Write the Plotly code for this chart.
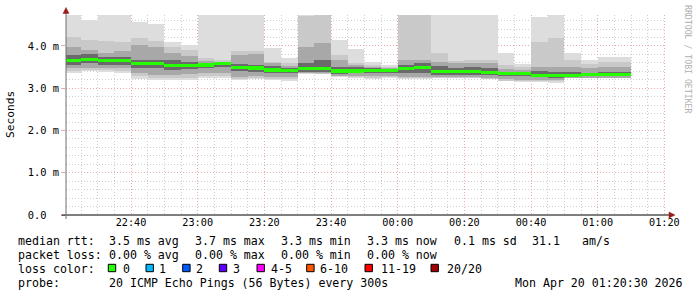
import pandas as pd
import plotly.graph_objects as go

# ---------------- data (ms) ----------------
bin_start = pd.date_range("2026-04-19 22:20:00", periods=34, freq="5min")

rtt_max = [4.90, 4.62, 4.90, 4.90, 4.575, 4.52, 4.10, 4.02, 4.90, 4.90, 4.90, 4.90,
           3.96, 3.72, 4.90, 4.90, 4.14, 3.93, 3.61, 3.55, 4.90, 4.90, 4.90, 4.90,
           4.90, 4.90, 3.84, 3.57, 4.68, 4.90, 3.84, 3.67, 3.75, 3.75]
rtt_hi2 = [4.22, 4.13, 4.11, 4.09, 4.20, 4.11, 3.97, 3.905, 3.72, 3.68, 3.89, 3.89,
           3.61, 3.59, 4.70, 4.90, 3.79, 3.60, 3.55, 3.51, 4.90, 4.90, 3.84, 3.645,
           3.67, 3.67, 3.55, 3.495, 4.10, 4.20, 3.67, 3.566, 3.63, 3.63]
rtt_hi3 = [3.98, 3.905, 3.83, 3.87, 4.02, 3.98, 3.83, 3.76, 3.65, 3.63, 3.79, 3.80,
           3.59, 3.527, 3.98, 4.06, 3.67, 3.55, 3.511, 3.471, 3.67, 3.68, 3.63, 3.59,
           3.59, 3.59, 3.448, 3.432, 3.511, 3.511, 3.511, 3.471, 3.511, 3.511]
rtt_hi4 = [3.79, 3.80, 3.75, 3.75, 3.67, 3.67, 3.67, 3.63, 3.60, 3.61, 3.57, 3.55,
           3.527, 3.471, 3.59, 3.67, 3.511, 3.495, 3.471, 3.44, 3.55, 3.59, 3.527, 3.471,
           3.511, 3.471, 3.393, 3.393, 3.408, 3.393, 3.393, 3.353, 3.393, 3.393]
rtt_med = [3.653, 3.684, 3.653, 3.653, 3.590, 3.582, 3.543, 3.527, 3.550, 3.582, 3.495, 3.479,
           3.432, 3.424, 3.456, 3.456, 3.408, 3.408, 3.416, 3.424, 3.471, 3.487, 3.400, 3.385,
           3.385, 3.377, 3.345, 3.345, 3.306, 3.298, 3.306, 3.314, 3.329, 3.329]
rtt_lo4 = [3.55, 3.59, 3.55, 3.55, 3.47, 3.47, 3.43, 3.45, 3.47, 3.51, 3.41, 3.39,
           3.37, 3.37, 3.39, 3.39, 3.33, 3.35, 3.36, 3.37, 3.35, 3.36, 3.32, 3.32,
           3.31, 3.31, 3.29, 3.28, 3.26, 3.25, 3.27, 3.28, 3.28, 3.28]
rtt_lo3 = [3.47, 3.49, 3.47, 3.47, 3.35, 3.31, 3.31, 3.33, 3.37, 3.35, 3.27, 3.29,
           3.27, 3.27, 3.36, 3.35, 3.29, 3.29, 3.29, 3.30, 3.27, 3.27, 3.27, 3.27,
           3.26, 3.25, 3.21, 3.20, 3.20, 3.19, 3.25, 3.25, 3.25, 3.25]
rtt_lo2 = [3.41, 3.43, 3.42, 3.41, 3.28, 3.24, 3.24, 3.24, 3.28, 3.29, 3.23, 3.24,
           3.23, 3.21, 3.35, 3.34, 3.28, 3.26, 3.24, 3.26, 3.24, 3.24, 3.25, 3.25,
           3.25, 3.23, 3.18, 3.17, 3.18, 3.16, 3.24, 3.24, 3.24, 3.24]
rtt_min = [3.37, 3.40, 3.39, 3.37, 3.22, 3.195, 3.195, 3.195, 3.235, 3.25, 3.195, 3.21,
           3.195, 3.18, 3.34, 3.33, 3.27, 3.235, 3.21, 3.235, 3.21, 3.21, 3.235, 3.235,
           3.235, 3.21, 3.16, 3.14, 3.156, 3.132, 3.235, 3.235, 3.235, 3.235]

y_tick_vals = [0, 1, 2, 3, 4]
y_tick_text = ["0.0\u00a0\u00a0", "1.0 m", "2.0 m", "3.0 m", "4.0 m"]

loss_labels = ["0", "1", "2", "3", "4-5", "6-10", "11-19", "20/20"]
loss_colors = ["#26ff00", "#00b8ff", "#0059ff", "#5e00ff", "#ff00ff", "#ff5500", "#ff0000", "#a00000"]

row_median = ["median rtt:", "3.5 ms avg", "3.7 ms max", "3.3 ms min", "3.3 ms now", "0.1 ms sd", "31.1", "am/s"]
row_loss = ["packet loss:", "0.00 % avg", "0.00 % max", "0.00 % min", "0.00 % now"]
probe_text = "20 ICMP Echo Pings (56 Bytes) every 300s"
stamp_text = "Mon Apr 20 01:20:30 2026"

# ---------------- geometry helpers ----------------
L, T, W, H = 66, 15, 600, 200
def px(x):
    return (x - L) / W
def py(y):
    return (T + H - y) / H

MONO = "DejaVu Sans Mono"
BIN_MS = 5 * 60 * 1000

fig = go.Figure()

bands = [
    (rtt_min, rtt_max, "#dddddd"),
    (rtt_lo2, rtt_hi2, "#c9c9c9"),
    (rtt_lo3, rtt_hi3, "#a8a8a8"),
    (rtt_lo4, rtt_hi4, "#6a6a6a"),
]
for lo, hi, col in bands:
    fig.add_trace(go.Bar(
        x=bin_start, base=lo, y=[h - l for h, l in zip(hi, lo)],
        width=BIN_MS, offset=0,
        marker=dict(color=col, line=dict(width=0)),
        hoverinfo="skip", showlegend=False))

med_half = 0.036
fig.add_trace(go.Bar(
    x=bin_start, base=[m - med_half for m in rtt_med], y=[2 * med_half] * len(rtt_med),
    width=BIN_MS, offset=0,
    marker=dict(color=loss_colors[0], line=dict(width=0)),
    hoverinfo="skip", showlegend=False))

# ---------------- annotations / shapes ----------------
ann = []
shapes = []

def text(x, y, s, size=11.6, color="#000000", xanchor="left", angle=0):
    ann.append(dict(x=px(x), y=py(y), xref="paper", yref="paper", text=s,
                    showarrow=False, xanchor=xanchor, yanchor="middle",
                    textangle=angle, font=dict(family=MONO, size=size, color=color)))

# axis title and watermark
text(10, 115, "Seconds", size=11.2, xanchor="center", angle=-90)
text(688, 59, "RRDTOOL / TOBI OETIKER", size=8.2, color="#b0b0b0", xanchor="center", angle=90)

# row 1
r1_x = [16, 107.3, 193.3, 279.3, 365, 451.7, 530, 580]
for xx, s in zip(r1_x, row_median):
    text(xx, 241, s)
# row 2
r2_x = [16, 107.3, 193.3, 279.3, 365]
for xx, s in zip(r2_x, row_loss):
    text(xx, 255, s)
# row 3
text(16, 268.5, "loss color:")
sq_x = [108.3, 146, 182.7, 219.3, 257, 306.7, 365, 431]
lab_x = [120.7, 157.3, 194, 230.7, 269, 318.3, 379.3, 445]
for sx, lx, lab, col in zip(sq_x, lab_x, loss_labels, loss_colors):
    shapes.append(dict(type="rect", xref="paper", yref="paper",
                       x0=px(sx), x1=px(sx + 7.4), y0=py(264.3), y1=py(271.7),
                       fillcolor=col, line=dict(color="#000000", width=1), layer="above"))
    text(lx, 268.5, lab)
# row 4
text(16, 282.5, "probe:")
text(107.3, 282.5, probe_text)
text(512.7, 282.5, stamp_text)

# axes lines and arrows
shapes.append(dict(type="line", xref="paper", yref="paper", x0=px(61.5), x1=px(670), y0=py(215), y1=py(215),
                   line=dict(color="#000000", width=1), layer="above"))
shapes.append(dict(type="line", xref="paper", yref="paper", x0=px(66), x1=px(66), y0=py(219), y1=py(11),
                   line=dict(color="#6e6e6e", width=1), layer="above"))
arrow_col = "#9a1c1c"
shapes.append(dict(type="path", xref="paper", yref="paper",
                   path=f"M {px(669)} {py(212)} L {px(675)} {py(215)} L {px(669)} {py(218)} Z",
                   fillcolor=arrow_col, line=dict(color=arrow_col, width=0.5), layer="above"))
shapes.append(dict(type="path", xref="paper", yref="paper",
                   path=f"M {px(63)} {py(13.5)} L {px(66)} {py(7.5)} L {px(69)} {py(13.5)} Z",
                   fillcolor=arrow_col, line=dict(color=arrow_col, width=0.5), layer="above"))

major_grid = "#eeaaaa"
minor_grid = "#cfcfcf"
dash = "1px,2px"

fig.update_layout(
    width=697, height=297,
    margin=dict(l=L, r=697 - L - W, t=T, b=297 - T - H, pad=0),
    paper_bgcolor="#ffffff", plot_bgcolor="#ffffff",
    barmode="overlay", bargap=0,
    showlegend=False,
    annotations=ann, shapes=shapes,
    xaxis=dict(
        type="date",
        range=["2026-04-19 22:20:30", "2026-04-20 01:20:30"],
        tick0="2026-04-19 22:00:00", dtick=20 * 60 * 1000, tickformat="%H:%M",
        showgrid=True, gridcolor=major_grid, griddash=dash, gridwidth=1,
        minor=dict(dtick=BIN_MS, tick0="2026-04-19 22:00:00", showgrid=True,
                   gridcolor=minor_grid, griddash=dash, gridwidth=1),
        showline=False, zeroline=False, ticks="",
        tickfont=dict(family=MONO, size=10.2, color="#000000"),
        fixedrange=True,
    ),
    yaxis=dict(
        range=[0, 4.733],
        tickvals=y_tick_vals, ticktext=y_tick_text,
        showgrid=True, gridcolor=major_grid, griddash=dash, gridwidth=1,
        minor=dict(dtick=0.2, tick0=0, showgrid=True, gridcolor=minor_grid, griddash=dash, gridwidth=1),
        showline=False, zeroline=False, ticks="outside", ticklen=4, tickcolor=major_grid,
        tickfont=dict(family=MONO, size=10.4, color="#000000"),
        fixedrange=True,
    ),
)

fig.write_html("out.html")
